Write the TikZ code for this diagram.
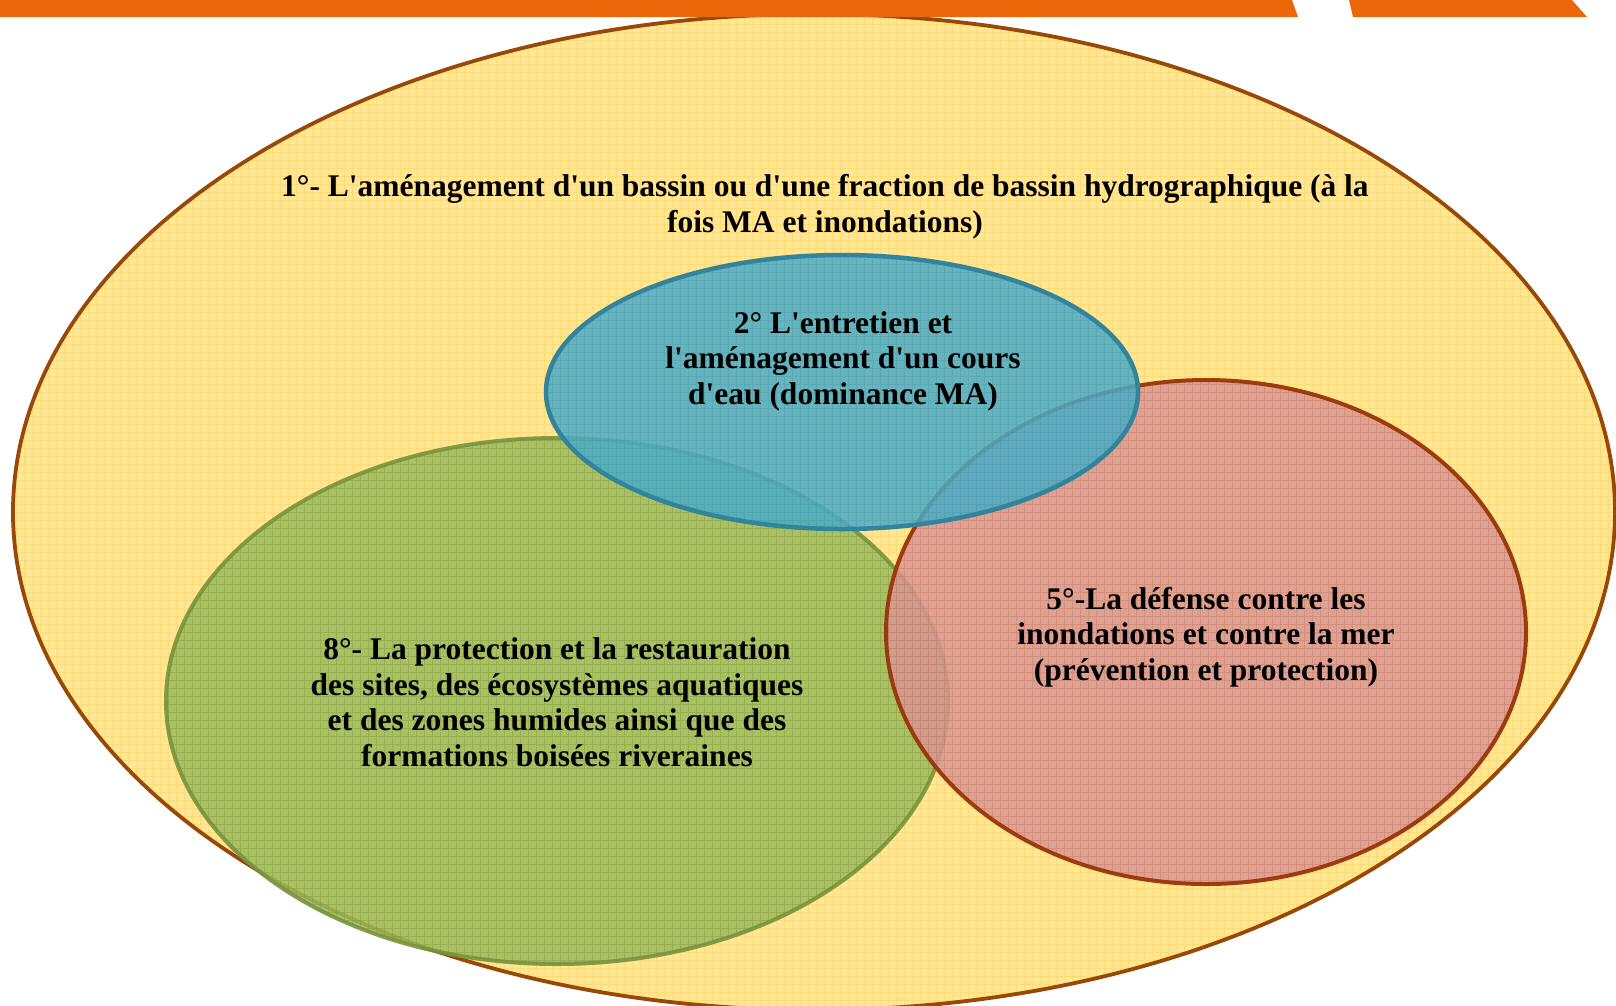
\documentclass[tikz,border=0pt]{standalone}
\usepackage{fontspec}
\setmainfont{Liberation Serif}[Ligatures=TeXOff]
\begin{document}
\begin{tikzpicture}[x=1pt,y=-1pt,
  lbl/.style={font=\fontsize{31.5}{35.5}\selectfont\bfseries, align=center, text=black, inner sep=0pt},
  gridl/.style={draw=#1, line width=0.8pt, opacity=0.35},
]
\definecolor{barorange}{HTML}{EC660A}
\definecolor{yfill}{HTML}{FFE699}
\definecolor{ygrid}{HTML}{FFC72C}
\definecolor{yline}{HTML}{984807}
\definecolor{gfill}{HTML}{9BBB59}
\definecolor{gline}{HTML}{77933C}
\definecolor{bfill}{HTML}{4BACC6}
\definecolor{bline}{HTML}{31849B}
\definecolor{rfill}{HTML}{D99694}
\definecolor{rline}{HTML}{9A3409}

\useasboundingbox[fill=white] (0,0) rectangle (1616,1005);

% outer yellow ellipse
\fill[yfill] (814,512) ellipse [x radius=801pt, y radius=498pt];
\begin{scope}
  \clip (814,512) ellipse [x radius=801pt, y radius=498pt];
  \draw[gridl=ygrid, step=8pt] (0,0) grid (1616,1005);
\end{scope}
\draw[yline, line width=3.8pt] (814,512) ellipse [x radius=801pt, y radius=498pt];

% green ellipse
\fill[gfill, fill opacity=0.85] (557,701) ellipse [x radius=391pt, y radius=263pt];
\begin{scope}
  \clip (557,701) ellipse [x radius=391pt, y radius=263pt];
  \draw[gridl=gline, step=8pt] (0,0) grid (1616,1005);
\end{scope}
\draw[gline, line width=4pt, draw opacity=0.9] (557,701) ellipse [x radius=391pt, y radius=263pt];

% red ellipse
\fill[rfill, fill opacity=0.85] (1206,632) ellipse [x radius=320pt, y radius=252pt];
\begin{scope}
  \clip (1206,632) ellipse [x radius=320pt, y radius=252pt];
  \draw[gridl=rline, step=8pt, opacity=0.15] (0,0) grid (1616,1005);
\end{scope}
\draw[rline, line width=4pt, draw opacity=0.95] (1206,632) ellipse [x radius=320pt, y radius=252pt];

% blue ellipse
\fill[bfill, fill opacity=0.85] (842,392) ellipse [x radius=296pt, y radius=137pt];
\begin{scope}
  \clip (842,392) ellipse [x radius=296pt, y radius=137pt];
  \draw[gridl=bline, step=8pt, opacity=0.2] (0,0) grid (1616,1005);
\end{scope}
\draw[bline, line width=4.5pt] (842,392) ellipse [x radius=296pt, y radius=137pt];

% orange bar
\fill[barorange] (0,0) -- (1292,0) -- (1298,17) -- (0,17) -- cycle;
\fill[barorange] (1349,0) -- (1572,0) -- (1587,17) -- (1353,17) -- cycle;

% texts
\node[lbl] (t1) at (825,207) {1°- L'aménagement d'un bassin ou d'une fraction de bassin hydrographique (à la\\fois MA et inondations)};
\node[lbl] (t2) at (843,361) {2° L'entretien et\\l'aménagement d'un cours\\d'eau (dominance MA)};
\node[lbl] (t5) at (1206,637) {5°-La défense contre les\\inondations et contre la mer\\(prévention et protection)};
\node[lbl] (t8) at (557,702) {8°- La protection et la restauration\\des sites, des écosystèmes aquatiques\\et des zones humides ainsi que des\\formations boisées riveraines};
\end{tikzpicture}
\end{document}
